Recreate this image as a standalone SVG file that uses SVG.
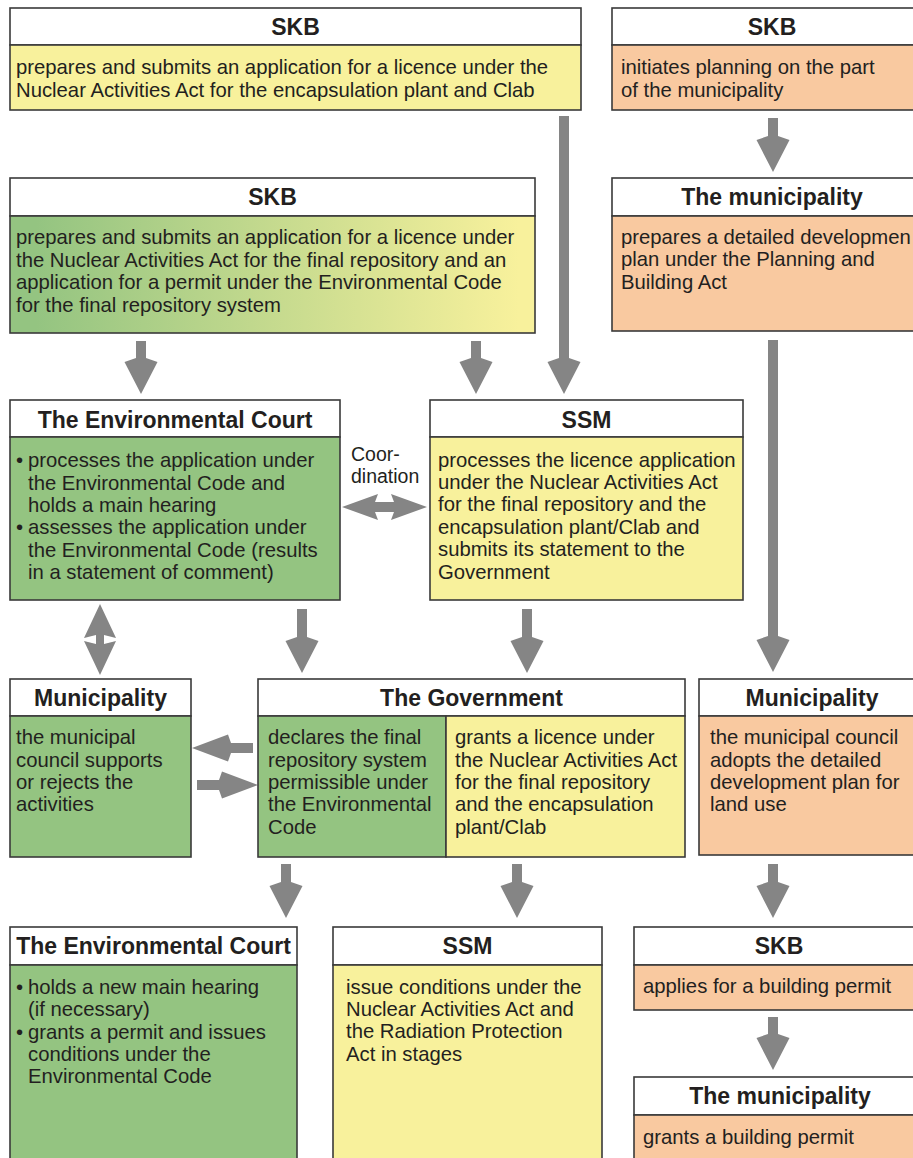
<svg xmlns="http://www.w3.org/2000/svg" width="913" height="1158" viewBox="0 0 913 1158">
<style>
.box{stroke:#3a3a3a;stroke-width:1.6}
.hd{fill:#ffffff}
.y{fill:#f8f19c}
.g{fill:#94c481}
.o{fill:#f9c9a0}
.h{font-family:"Liberation Sans",Arial,sans-serif;font-weight:bold;font-size:23px;fill:#231f20;text-anchor:middle}
.t{font-family:"Liberation Sans",Arial,sans-serif;font-size:20.3px;fill:#231f20}
.c{font-family:"Liberation Sans",Arial,sans-serif;font-size:19.5px;fill:#231f20}
.ar{fill:#858585}
</style>
<defs>
<linearGradient id="gy" x1="0" y1="0" x2="1" y2="0">
<stop offset="0.05" stop-color="#94c481"/>
<stop offset="0.97" stop-color="#f8f19c"/>
</linearGradient>
</defs>
<rect x="0" y="0" width="913" height="1158" fill="#ffffff"/>

<g id="connectors">
<polygon class="ar" points="559,116 569,116 569,358 580.5,362 564,394 547.5,362 559,358"/>
<polygon class="ar" points="768,118 778,118 778,136 789.5,140 773,172 756.5,140 768,136"/>
<polygon class="ar" points="136,341 146,341 146,358 157.5,362 141,394 124.5,362 136,358"/>
<polygon class="ar" points="471,341 481,341 481,358 492.5,362 476,394 459.5,362 471,358"/>
<polygon class="ar" points="768,340 778,340 778,636 789.5,640 773,672 756.5,640 768,636"/>
<polygon class="ar" points="297,609 307,609 307,637 318.5,641 302,673 285.5,641 297,637"/>
<polygon class="ar" points="522,609 532,609 532,637 543.5,641 527,673 510.5,641 522,637"/>
<polygon class="ar" points="281,864 291,864 291,882 302.5,886 286,918 269.5,886 281,882"/>
<polygon class="ar" points="512,864 522,864 522,882 533.5,886 517,918 500.5,886 512,882"/>
<polygon class="ar" points="768,864 778,864 778,882 789.5,886 773,918 756.5,886 768,882"/>
<polygon class="ar" points="768,1017 778,1017 778,1034 789.5,1038 773,1070 756.5,1038 768,1034"/>
<polygon class="ar" points="342,507 378,494 375,502 394,502 391,494 427,507 391,520 394,512 375,512 378,520"/>
<polygon class="ar" points="100,604 116,638 104,635 104,644 116,641 100,675 84,641 96,644 96,635 84,638"/>
<polygon class="ar" points="253,743 231,743 228,734.5 192,748 228,761.5 231,753 253,753"/>
<polygon class="ar" points="197,780 219,780 222,771.5 258,785 222,798.5 219,790 197,790"/>
</g>

<g id="skb-top-left">
<rect class="box hd" x="10" y="8" width="571" height="37"/>
<rect class="box y" x="10" y="45" width="571" height="65"/>
<text class="h" x="295.5" y="35">SKB</text>
<text class="t" x="16" y="74">prepares and submits an application for a licence under the</text>
<text class="t" x="16" y="97">Nuclear Activities Act for the encapsulation plant and Clab</text>
</g>

<g id="skb-top-right">
<rect class="box hd" x="612" y="8" width="310" height="37"/>
<rect class="box o" x="612" y="45" width="310" height="65"/>
<text class="h" x="772" y="35">SKB</text>
<text class="t" x="621" y="74">initiates planning on the part</text>
<text class="t" x="621" y="97">of the municipality</text>
</g>

<g id="skb-middle">
<rect class="box hd" x="10" y="178" width="525" height="38"/>
<rect class="box" fill="url(#gy)" x="10" y="216" width="525" height="117"/>
<text class="h" x="272.5" y="205">SKB</text>
<text class="t" x="16" y="244">prepares and submits an application for a licence under</text>
<text class="t" x="16" y="267">the Nuclear Activities Act for the final repository and an</text>
<text class="t" x="16" y="289">application for a permit under the Environmental Code</text>
<text class="t" x="16" y="312">for the final repository system</text>
</g>

<g id="municipality-plan">
<rect class="box hd" x="612" y="178" width="310" height="38"/>
<rect class="box o" x="612" y="216" width="310" height="115"/>
<text class="h" x="772" y="205">The municipality</text>
<text class="t" x="621" y="244">prepares a detailed developmen</text>
<text class="t" x="621" y="266">plan under the Planning and</text>
<text class="t" x="621" y="289">Building Act</text>
</g>

<g id="env-court-1">
<rect class="box hd" x="10" y="400" width="330" height="37"/>
<rect class="box g" x="10" y="437" width="330" height="163"/>
<text class="h" x="175" y="428">The Environmental Court</text>
<text class="t" x="16" y="467">•</text>
<text class="t" x="28" y="467">processes the application under</text>
<text class="t" x="28" y="490">the Environmental Code and</text>
<text class="t" x="28" y="512">holds a main hearing</text>
<text class="t" x="16" y="534">•</text>
<text class="t" x="28" y="534">assesses the application under</text>
<text class="t" x="28" y="557">the Environmental Code (results</text>
<text class="t" x="28" y="579">in a statement of comment)</text>
</g>

<g id="coordination">
<text class="c" x="351" y="461">Coor-</text>
<text class="c" x="351" y="483">dination</text>
</g>

<g id="ssm-1">
<rect class="box hd" x="430" y="400" width="313" height="37"/>
<rect class="box y" x="430" y="437" width="313" height="163"/>
<text class="h" x="586.5" y="428">SSM</text>
<text class="t" x="438" y="467">processes the licence application</text>
<text class="t" x="438" y="489">under the Nuclear Activities Act</text>
<text class="t" x="438" y="511">for the final repository and the</text>
<text class="t" x="438" y="534">encapsulation plant/Clab and</text>
<text class="t" x="438" y="556">submits its statement to the</text>
<text class="t" x="438" y="579">Government</text>
</g>

<g id="municipality-left">
<rect class="box hd" x="10" y="679" width="181" height="37"/>
<rect class="box g" x="10" y="716" width="181" height="141"/>
<text class="h" x="100.5" y="706">Municipality</text>
<text class="t" x="16" y="744">the municipal</text>
<text class="t" x="16" y="767">council supports</text>
<text class="t" x="16" y="789">or rejects the</text>
<text class="t" x="16" y="811">activities</text>
</g>

<g id="government">
<rect class="box hd" x="258" y="679" width="427" height="37"/>
<rect class="box g" x="258" y="716" width="188" height="141"/>
<rect class="box y" x="446" y="716" width="239" height="141"/>
<text class="h" x="471.5" y="706">The Government</text>
<text class="t" x="268" y="744">declares the final</text>
<text class="t" x="268" y="767">repository system</text>
<text class="t" x="268" y="789">permissible under</text>
<text class="t" x="268" y="811">the Environmental</text>
<text class="t" x="268" y="834">Code</text>
<text class="t" x="455" y="744">grants a licence under</text>
<text class="t" x="455" y="767">the Nuclear Activities Act</text>
<text class="t" x="455" y="789">for the final repository</text>
<text class="t" x="455" y="811">and the encapsulation</text>
<text class="t" x="455" y="834">plant/Clab</text>
</g>

<g id="municipality-right">
<rect class="box hd" x="699" y="679" width="223" height="37"/>
<rect class="box o" x="699" y="716" width="223" height="139"/>
<text class="h" x="812" y="706">Municipality</text>
<text class="t" x="710" y="744">the municipal council</text>
<text class="t" x="710" y="767">adopts the detailed</text>
<text class="t" x="710" y="789">development plan for</text>
<text class="t" x="710" y="811">land use</text>
</g>

<g id="env-court-2">
<rect class="box hd" x="10" y="927" width="287" height="38"/>
<rect class="box g" x="10" y="965" width="287" height="205"/>
<text class="h" x="153.5" y="954">The Environmental Court</text>
<text class="t" x="16" y="994">•</text>
<text class="t" x="28" y="994">holds a new main hearing</text>
<text class="t" x="28" y="1016">(if necessary)</text>
<text class="t" x="16" y="1039">•</text>
<text class="t" x="28" y="1039">grants a permit and issues</text>
<text class="t" x="28" y="1061">conditions under the</text>
<text class="t" x="28" y="1083">Environmental Code</text>
</g>

<g id="ssm-2">
<rect class="box hd" x="333" y="927" width="269" height="38"/>
<rect class="box y" x="333" y="965" width="269" height="205"/>
<text class="h" x="467.5" y="954">SSM</text>
<text class="t" x="346" y="994">issue conditions under the</text>
<text class="t" x="346" y="1016">Nuclear Activities Act and</text>
<text class="t" x="346" y="1038">the Radiation Protection</text>
<text class="t" x="346" y="1061">Act in stages</text>
</g>

<g id="skb-building">
<rect class="box hd" x="634" y="927" width="288" height="38"/>
<rect class="box o" x="634" y="965" width="288" height="45"/>
<text class="h" x="779" y="954">SKB</text>
<text class="t" x="643" y="993">applies for a building permit</text>
</g>

<g id="municipality-permit">
<rect class="box hd" x="634" y="1077" width="288" height="38"/>
<rect class="box o" x="634" y="1115" width="288" height="55"/>
<text class="h" x="780" y="1104">The municipality</text>
<text class="t" x="643" y="1144">grants a building permit</text>
</g>
</svg>
